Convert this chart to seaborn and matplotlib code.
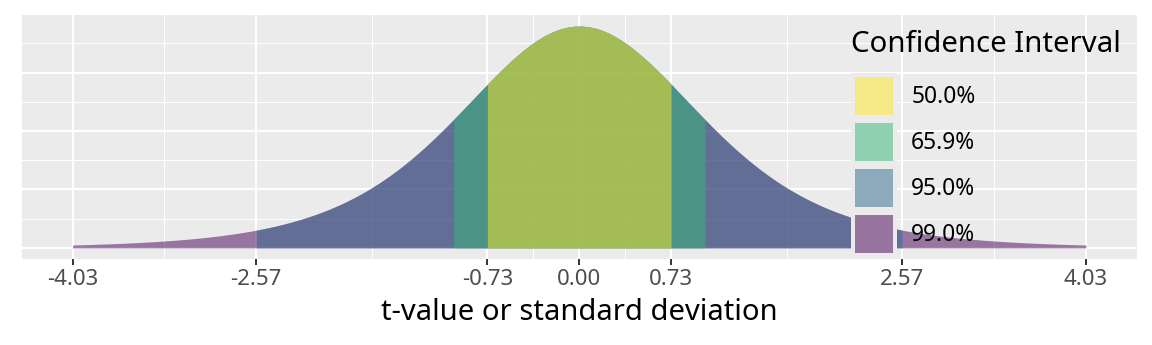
import math
import numpy as np
import matplotlib
matplotlib.use("Agg")
import matplotlib.pyplot as plt
from matplotlib.patches import Rectangle, Patch
from matplotlib.legend_handler import HandlerBase
import seaborn as sns

# Student's t distribution, shaded by confidence interval
dof = 5
levels = ["50.0%", "65.9%", "95.0%", "99.0%"]
bounds = [0.73, 1.00, 2.57, 4.03]
level_colors = ["#FDE725", "#35B779", "#31688E", "#440154"]
tick_values = [-4.03, -2.57, -0.73, 0.00, 0.73, 2.57, 4.03]
tick_labels = ["-4.03", "-2.57", "-0.73", "0.00", "0.73", "2.57", "4.03"]


def t_pdf(x, v):
    c = math.gamma((v + 1) / 2) / (math.sqrt(v * math.pi) * math.gamma(v / 2))
    return c * (1 + x ** 2 / v) ** (-(v + 1) / 2)


sns.set_theme(style="darkgrid", rc={
    "axes.facecolor": "#EBEBEB",
    "grid.color": "white",
})
plt.rcParams["font.family"] = ["Noto Sans", "DejaVu Sans"]

fig = plt.figure(figsize=(11.52, 3.45), dpi=100)
ax = fig.add_axes([22 / 1152, 1 - 259 / 345, (1136.5 - 22) / 1152, (259 - 15) / 345])

# widest interval first so the narrower ones stack on top
for lvl, b, col in sorted(zip(levels, bounds, level_colors), key=lambda t: -t[1]):
    xs = np.linspace(-b, b, 600)
    ys = t_pdf(xs, dof)
    ax.fill_between(xs, 0, ys, color=col, alpha=0.5, linewidth=0, zorder=2)

xmax = max(bounds)
pad_x = 0.05 * 2 * xmax
ax.set_xlim(-xmax - pad_x, xmax + pad_x)
peak = t_pdf(0.0, dof)
ax.set_ylim(-0.05 * peak, peak * 1.05)

ax.set_xticks(tick_values)
ax.set_xticklabels(tick_labels)
mids = [(a + b) / 2 for a, b in zip(tick_values[:-1], tick_values[1:])]
ax.set_xticks(mids, minor=True)
ax.set_yticks([0.0, 0.1, 0.2, 0.3])
ax.set_yticks([0.05, 0.15, 0.25, 0.35], minor=True)
ax.set_yticklabels([])
ax.grid(which="major", color="white", linewidth=1.5, zorder=0)
ax.grid(which="minor", color="white", linewidth=0.75, zorder=0)
ax.set_axisbelow(True)
ax.tick_params(axis="y", which="both", length=0)
ax.tick_params(axis="x", which="major", length=4.3, width=1.4, color="#333333",
               labelsize=16, labelcolor="#4D4D4D", pad=3, bottom=True)
ax.tick_params(axis="x", which="minor", length=0)
for s in ax.spines.values():
    s.set_visible(False)

ax.set_xlabel("t-value or standard deviation", fontsize=21, color="black", labelpad=6)


class KeyHandler(HandlerBase):
    """Grey key cell with the filled swatch inset inside it."""
    def create_artists(self, legend, orig_handle, xdescent, ydescent,
                       width, height, fontsize, trans):
        inset = 2.9
        bg = Rectangle((-xdescent, -ydescent), width, height,
                       facecolor="#EBEBEB", linewidth=0, transform=trans)
        fg = Rectangle((-xdescent + inset, -ydescent + inset),
                       width - 2 * inset, height - 2 * inset,
                       facecolor=orig_handle.get_facecolor(), linewidth=0,
                       transform=trans)
        return [bg, fg]


handles = [Patch(facecolor=c, alpha=0.5) for c in level_colors]
leg = ax.legend(handles, levels, title="Confidence Interval",
                loc="upper left", bbox_to_anchor=(851 / 1152, 1 - 30 / 345),
                bbox_transform=fig.transFigure, frameon=False,
                fontsize=16.4, title_fontsize=21.2, alignment="left",
                handler_map={Patch: KeyHandler()},
                handlelength=2.02, handleheight=2.73, labelspacing=0.0,
                handletextpad=0.62, borderpad=0, borderaxespad=0)
# gap between the title and the first key
leg._legend_box.sep = 10.0
leg.get_title().set_color("black")
for t in leg.get_texts():
    t.set_color("black")

fig.savefig("out.png", dpi=100)
